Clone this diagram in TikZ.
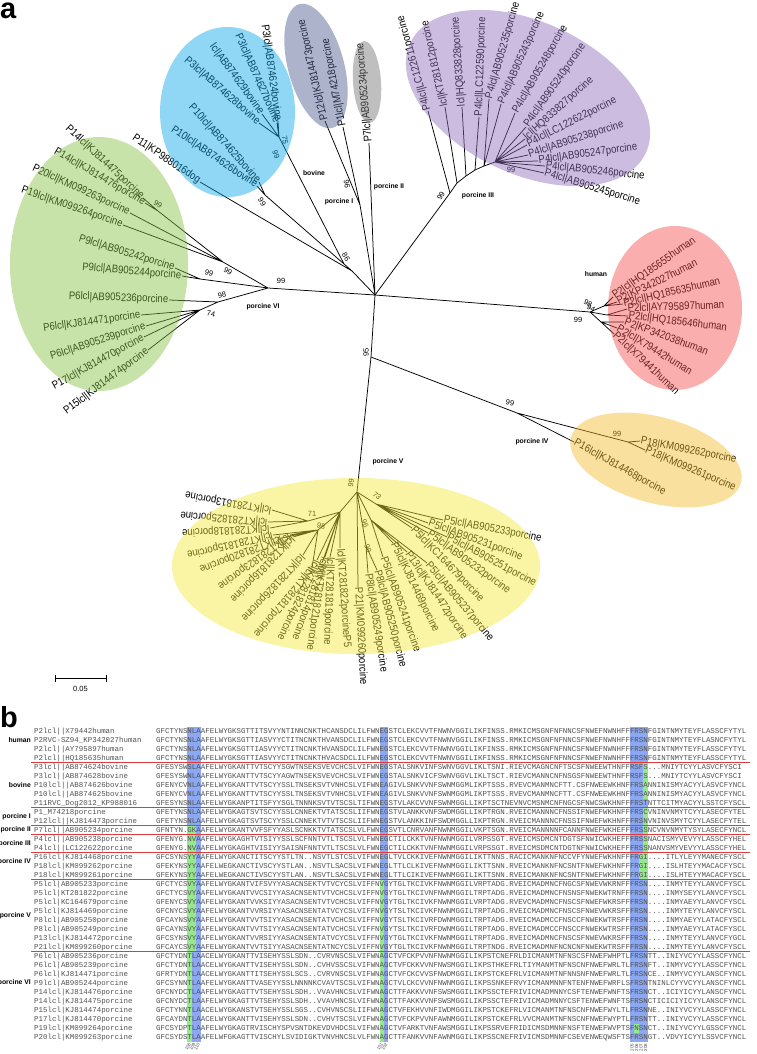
\documentclass[tikz,border=0pt]{standalone}
\usepackage{fontspec}
\setmainfont{Liberation Sans}
\newfontfamily\leaffont[FakeStretch=0.87]{Liberation Sans}
\newfontfamily\monofont{Liberation Mono}
\definecolor{ellG}{RGB}{133,195,66}
\definecolor{ellB}{RGB}{10,166,233}
\definecolor{ellR}{RGB}{244,77,77}
\definecolor{ellP}{RGB}{144,110,188}
\definecolor{ellGB}{RGB}{77,88,144}
\definecolor{ellGr}{RGB}{115,115,115}
\definecolor{ellO}{RGB}{244,188,44}
\definecolor{ellY}{RGB}{244,233,55}
\definecolor{hlB}{RGB}{140,168,242}
\definecolor{hlG}{RGB}{150,232,140}
\definecolor{sepred}{RGB}{222,60,60}
\tikzset{
 br/.style={draw=black, line width=0.75pt},
 leaf/.style={inner sep=0.6pt, font=\leaffont\fontsize{11}{11}\selectfont},
 bs/.style={inner sep=0pt, font=\fontsize{7.5}{7.5}\selectfont},
 grp/.style={inner sep=0pt, font=\bfseries\fontsize{6.8}{6.8}\selectfont},
 ell/.style={fill opacity=0.45},
 seqtxt/.style={anchor=base west, inner sep=0pt, text=black!68, font=\monofont\fontsize{7.45}{7.45}\selectfont},
 posn/.style={inner sep=0pt, text=black!70, font=\fontsize{4.5}{4.5}\selectfont},
 sep/.style={draw=sepred, line width=0.9pt},
 panel/.style={inner sep=0pt, anchor=base west, font=\bfseries\fontsize{29}{29}\selectfont}
}
\newcommand\lf[5]{\coordinate (#1) at (#2); \node[leaf, anchor=#3, rotate=#4] (#1t) at (#1) {#5};}
\newcommand\arow[4]{%
 \node[seqtxt] (an#1) at (34,{733.5+9*#1}) {#2};
 \node[seqtxt] (aa#1) at (156,{733.5+9*#1}) {#3};
 \node[seqtxt] (ab#1) at (379.5,{733.5+9*#1}) {#4};}
\begin{document}
\begin{tikzpicture}[x=1pt,y=-1pt]
\fill[white] (0,0) rectangle (756,1054);
\useasboundingbox (0,0) rectangle (756,1054);

\node[panel, text height=15pt] (pa) at (0,18.5) {a};
\node[panel, text height=22pt] (pb) at (0,727) {b};

% ---------------- tree ----------------
\coordinate (R) at (375,295);
% porcine VI
\coordinate (v2) at (268,288);
\coordinate (vU) at (223,262);
\coordinate (vP14) at (158,211);
\coordinate (v9) at (200,279);
\coordinate (v6) at (218,302);
\coordinate (v6b) at (200,310);
\lf{l14a}{143,198}{east}{-43}{P14lcl|KJ814475porcine}
\lf{l14b}{145,203}{east}{-30}{P14lcl|KJ814476porcine}
\lf{l20}{130,213}{east}{-25}{P20lcl|KM099263porcine}
\lf{l19}{123,225}{east}{-19}{P19lcl|KM099264porcine}
\lf{l9a}{175,268}{east}{-17}{P9lcl|AB905242porcine}
\lf{l9b}{182,276}{east}{-5}{P9lcl|AB905244porcine}
\lf{l6a}{169,300}{east}{-2}{P6lcl|AB905236porcine}
\lf{l6b}{141,315}{east}{8}{P6lcl|KJ814471porcine}
\lf{l6c}{146,326}{east}{18}{P6lcl|AB905239porcine}
\lf{l17}{144,337}{east}{29}{P17lcl|KJ814470porcine}
\lf{l15}{148,350}{east}{37}{P15lcl|KJ814474porcine}
\draw[br] (R) -- (v2) (v2) -- (vU) (vU) -- (vP14) (vP14) -- (l14a) (vP14) -- (l14b)
 (vU) -- (l20) (vU) -- (l19) (v2) -- (v9) (v9) -- (l9a) (v9) -- (l9b)
 (v2) -- (v6) (v6) -- (l6a) (v6) -- (v6b) (v6b) -- (l6b) (v6b) -- (l6c) (v6b) -- (l17) (v6b) -- (l15);
% bovine + dog
\coordinate (vBD) at (352,271);
\coordinate (vBov) at (344,264);
\coordinate (vP3) at (279,137);
\coordinate (vP10) at (265,195);
\lf{b24}{278,121}{east}{-82}{P3lcl|AB874624bovine}
\lf{b27}{277,123}{east}{-66}{P3lcl|AB874627bovine}
\lf{b29}{262,114}{east}{-54}{lcl|AB874629bovine}
\lf{b28}{259,123}{east}{-41}{P3lcl|AB874628bovine}
\lf{b25}{259,182}{east}{-48}{P10lcl|AB874625bovine}
\lf{b26}{257,186}{east}{-34}{P10lcl|AB874626bovine}
\lf{dog}{200,182}{east}{-34}{P11|KP988016dog}
\draw[br] (R) -- (vBD) (vBD) -- (vBov) (vBD) -- (dog) (vBov) -- (vP3) (vBov) -- (vP10)
 (vP3) -- (b24) (vP3) -- (b27) (vP3) -- (b29) (vP3) -- (b28) (vP10) -- (b25) (vP10) -- (b26);
% porcine I, II
\coordinate (vI) at (360,205);
\lf{p12}{325,121}{west}{103}{P12lcl|KJ814473porcine}
\lf{p1}{343,127}{west}{101}{P1lcl|M74218porcine}
\lf{p7}{369,143}{west}{95}{P7lcl|AB905234porcine}
\draw[br] (R) -- (vI) (vI) -- (p12) (vI) -- (p1) (R) -- (p7);
% porcine III
\coordinate (vIII) at (450,193);
\coordinate (b1) at (457,183);
\coordinate (b2) at (466,176);
\coordinate (b3) at (475,170);
\coordinate (b4) at (484,166);
\coordinate (b5) at (495,162);
\lf{t1}{428,111}{west}{106}{P4lcl|LC122611porcine}
\lf{t2}{445,107}{west}{103}{lcl|KT281812porcine}
\lf{t3}{462,107}{west}{94}{lcl|HQ833828porcine}
\lf{t4}{479,117}{west}{88}{P4lcl|LC122590porcine}
\lf{t5}{489,99}{west}{74}{P4lcl|AB905235porcine}
\lf{t6}{501,104}{west}{66}{P4lcl|AB905243porcine}
\lf{t7}{515,113}{west}{60}{P4lcl|AB905248porcine}
\lf{t8}{526,127}{west}{55}{P4lcl|AB905240porcine}
\lf{t9}{525,139}{west}{42}{lcl|HQ833827porcine}
\lf{t10}{527,145}{west}{27}{P4lcl|LC122622porcine}
\lf{t11}{528,155}{west}{18}{P4lcl|AB905238porcine}
\lf{t12}{538,161}{west}{8}{P4lcl|AB905247porcine}
\lf{t13}{545,166}{west}{-6}{P4lcl|AB905246porcine}
\lf{t14}{544,173}{west}{-17}{P4lcl|AB905245porcine}
\draw[br] (R) -- (vIII) -- (b1) -- (b2) -- (b3) -- (b4) -- (b5);
\draw[br] (vIII) -- (t1) (b1) -- (t2) (b2) -- (t3) (b3) -- (t4) (b4) -- (t5) (b4) -- (t6)
 (b5) -- (t7) (b5) -- (t8) (b5) -- (t9) (b5) -- (t10) (b5) -- (t11) (b5) -- (t12) (b5) -- (t13) (b5) -- (t14);
% human
\coordinate (vH) at (590,312);
\coordinate (hA) at (604,306);
\coordinate (hB) at (607,315);
\coordinate (hC) at (601,322);
\lf{h1}{613,297}{west}{35}{P2lcl|HQ185655human}
\lf{h2}{617,302}{west}{26}{P2|KP342027human}
\lf{h3}{623,304}{west}{13}{P2lcl|HQ185635human}
\lf{h4}{627,309}{west}{2}{P2lcl|AY795897human}
\lf{h5}{628,316}{west}{-7}{P2lcl|HQ185646human}
\lf{h6}{624,322}{west}{-20}{P2|KP342038human}
\lf{h7}{617,328}{west}{-31}{P2lcl|X79442human}
\lf{h8}{614,334}{west}{-43}{P2lcl|X79441human}
\draw[br] (R) -- (vH) (vH) -- (hA) (vH) -- (hB) (vH) -- (hC)
 (hA) -- (h1) (hA) -- (h2) (hA) -- (h3) (hB) -- (h4) (hB) -- (h5) (hC) -- (h6) (hC) -- (h7) (hC) -- (h8);
% porcine IV
\coordinate (vIVV) at (371,357);
\coordinate (vIV) at (517,413);
\coordinate (vP18) at (628,442);
\lf{q16}{574,442}{west}{-29}{P16lcl|KJ814468porcine}
\lf{q18a}{640,441}{west}{-11}{P18|KM099262porcine}
\lf{q18b}{645,450}{west}{-23}{P18|KM099261porcine}
\draw[br] (R) -- (vIVV) (vIVV) -- (vIV) (vIV) -- (q16) (vIV) -- (vP18) (vP18) -- (q18a) (vP18) -- (q18b);
% porcine V
\coordinate (vV) at (357,492);
\coordinate (vVr) at (376,504);
\coordinate (vVm) at (371,520);
\coordinate (vP8) at (366,546);
\coordinate (vVl) at (340,512);
\coordinate (v71) at (308,521);
\coordinate (v98) at (318,530);
\lf{r1}{443,520}{west}{-11}{P5lcl|AB905233porcine}
\lf{r2}{428,523}{west}{-20}{P5lcl|AB905231porcine}
\lf{r3}{447,537}{west}{-28}{P5lcl|AB905251porcine}
\lf{r4}{428,533}{west}{-36}{P5lcl|AB905232porcine}
\lf{r5}{412,528}{west}{-46}{P5lcl|KC164679porcine}
\lf{r6}{427,563}{west}{-50}{P5lcl|AB905237porcine}
\lf{r7}{407,552}{west}{-56}{P13lcl|KJ814472porcine}
\lf{r8}{393,543}{west}{-64}{P5lcl|KJ814469porcine}
\lf{r9}{383,557}{west}{-70}{P5lcl|AB905241porcine}
\lf{r10}{377,570}{west}{-75}{P8lcl|AB905250porcine}
\lf{r11}{368,573}{west}{-81}{P8lcl|AB905249porcine}
\lf{k13}{272,510}{west}{170}{lcl|KT281813porcine}
\lf{k25}{268,522}{west}{175}{lcl|KT281825porcine}
\lf{k18}{270,528}{west}{183}{lcl|KT281818porcine}
\lf{k15}{273,535}{west}{193}{lcl|KT281815porcine}
\lf{k20}{282,538}{west}{201}{lcl|KT281820porcine}
\lf{k23}{290,535}{west}{216}{lcl|KT281823porcine}
\lf{k16}{293,537}{west}{226}{lcl|KT281816porcine}
\lf{k26}{303,555}{west}{227}{lcl|KT281826porcine}
\lf{k17}{312,568}{west}{230}{lcl|KT281817porcine}
\lf{k24}{317,560}{west}{245}{lcl|KT281824porcine}
\lf{k14}{325,557}{west}{250}{lcl|KT281814porcine}
\lf{k21}{322,563}{west}{262}{lcl|KT281821porcine}
\lf{k19}{330,557}{west}{268}{lcl|KT281819porcine}
\lf{k22}{340,548}{west}{274}{lcl|KT281822porcineP5}
\lf{k60}{358,587}{west}{273}{P21|KM099260porcine}
\draw[br] (vIVV) -- (vV) (vV) -- (vVr) (vV) -- (vVm) (vV) -- (vP8) (vV) -- (vVl) (vV) -- (k60)
 (vVr) -- (r1) (vVr) -- (r2) (vVr) -- (r3) (vVr) -- (r4) (vVr) -- (r5)
 (vVm) -- (r6) (vVm) -- (r7) (vVm) -- (r8) (vVm) -- (r9) (vP8) -- (r10) (vP8) -- (r11)
 (vVl) -- (v71) (vVl) -- (v98) (vVl) -- (k24) (vVl) -- (k14) (vVl) -- (k21) (vVl) -- (k19) (vVl) -- (k22)
 (v71) -- (k13) (v71) -- (k25) (v71) -- (k18)
 (v98) -- (k15) (v98) -- (k20) (v98) -- (k23) (v98) -- (k16) (v98) -- (k26) (v98) -- (k17);

% bootstrap values
\node[bs, rotate=-80] (bs1) at (285,140) {75};
\node[bs, rotate=-70] (bs2) at (276,155) {99};
\node[bs, rotate=-60] (bs3) at (262,202) {99};
\node[bs, rotate=-60] (bs4) at (346,257) {86};
\node[bs, rotate=-80] (bs5) at (347,184) {96};
\node[bs, rotate=60] (bs6) at (441,196) {99};
\node[bs] (bs7) at (511,170) {99};
\node[bs, rotate=-30] (bs8) at (158,204) {99};
\node[bs, rotate=-30] (bs9) at (228,271) {99};
\node[bs, rotate=-15] (bs10) at (209,273) {99};
\node[bs] (bs11) at (281,281) {99};
\node[bs, rotate=10] (bs12) at (222,295) {98};
\node[bs, rotate=-10] (bs13) at (211,314) {74};
\node[bs] (bs14) at (578,320) {99};
\node[bs, rotate=-30] (bs15) at (588,303) {98};
\node[bs, rotate=-30] (bs16) at (591,308) {94};
\node[bs, rotate=90] (bs17) at (366,352) {95};
\node[bs, rotate=-10] (bs18) at (510,403) {99};
\node[bs] (bs19) at (617,434) {99};
\node[bs, rotate=80] (bs20) at (351,483) {99};
\node[bs, rotate=-40] (bs21) at (377,496) {73};
\node[bs] (bs22) at (312,514) {71};
\node[bs, rotate=-15] (bs23) at (321,526) {98};
\node[bs, rotate=-70] (bs24) at (365,524) {96};
\node[bs, rotate=-70] (bs25) at (368,549) {99};

% group labels
\node[grp] (gbov) at (314,173) {bovine};
\node[grp] (gp1) at (339,202) {porcine I};
\node[grp] (gp2) at (389,187) {porcine II};
\node[grp] (gp3) at (478,196) {porcine III};
\node[grp] (ghum) at (596,274) {human};
\node[grp] (gp4) at (532,442) {porcine IV};
\node[grp] (gp5) at (388,462) {porcine V};
\node[grp] (gp6) at (263,307) {porcine VI};

% scale bar
\coordinate (sbL) at (55,678);
\coordinate (sbR) at (106,678);
\draw[line width=0.8pt] (sbL) -- (sbR);
\draw[line width=0.8pt] (55,674.5) -- (55,681.5) (106,674.5) -- (106,681.5);
\node[bs] (sbt) at (80.5,689) {0.05};

% clade ellipses (translucent overlay)
\fill[ellB, ell] (227.5,112) ellipse [x radius=67.5pt, y radius=85pt];
\fill[ellGB, ell, rotate around={15:(316,66)}] (316,66) ellipse [x radius=28pt, y radius=64pt];
\fill[ellGr, ell, rotate around={4:(367,82)}] (367,82) ellipse [x radius=14pt, y radius=41pt];
\fill[ellP, ell, rotate around={-25:(528,98)}] (528,98) ellipse [x radius=130pt, y radius=76pt];
\fill[ellR, ell] (675,308) ellipse [x radius=67pt, y radius=82pt];
\fill[ellG, ell] (99,264) ellipse [x radius=89pt, y radius=127pt];
\fill[ellO, ell, rotate around={-15:(656,460)}] (656,460) ellipse [x radius=88pt, y radius=43pt];
\fill[ellY, ell] (356,566) ellipse [x radius=184pt, y radius=88pt];

% ---------------- alignment ----------------
\fill[hlB] (187.3,726.5) rectangle (200.7,825.5);
\fill[hlG] (187.3,825.5) rectangle (196.2,951.5);
\fill[hlB] (196.2,825.5) rectangle (200.7,951.5);
\fill[hlG] (187.3,951.5) rectangle (191.8,1041.5);
\fill[hlB] (191.8,951.5) rectangle (200.7,1041.5);
\fill[hlB] (379.5,726.5) rectangle (388.4,879.5);
\fill[hlG] (379.5,879.5) rectangle (384,1041.5);
\fill[hlB] (384,879.5) rectangle (388.4,1041.5);
\fill[hlB] (629.8,726.5) rectangle (647.7,762.5);
\fill[hlB] (629.8,762.5) rectangle (643.2,798.5);
\fill[hlG] (643.2,762.5) rectangle (647.7,798.5);
\fill[hlB] (629.8,798.5) rectangle (647.7,807.5);
\fill[hlB] (629.8,807.5) rectangle (643.2,852.5);
\fill[hlG] (643.2,807.5) rectangle (647.7,852.5);
\fill[hlB] (629.8,852.5) rectangle (638.8,879.5);
\fill[hlG] (638.8,852.5) rectangle (647.7,879.5);
\fill[hlB] (629.8,879.5) rectangle (647.7,1041.5);
\fill[hlG] (634.3,1023.5) rectangle (638.8,1032.5);

\arow{0}{P2lcl||X79442human}{GFCTYNSNLAAFELWYGKSGTTITSVYYNTINNCNKTHCANSDCLILFWN}{EGSTCLEKCVVTFNWNVGGILIKFINSS.RMKICMSGNFNFNNCSFNWEFNWNHFFFRSNFGINTNMYTEYFLASSCFYTYL}
\arow{1}{P2RVC-SZ94\_KP342027human}{GFCTYNSNLAAFELWYGKSGTTIASVYYCTITNCNKTHVANSDCLILFWN}{EGSTCLEKCVVTFNWNVGGILIKFINSS.RMKICMSGNFNFNNCSFNWEFNWNHFFFRSNFGINTNMYTEYFLASNCFYTYL}
\arow{2}{P2lcl||AY795897human}{GFCTYNSNLAAFELWYGKSGTTIASVYYCTITNCNKTHVANSDCLILFWN}{EGSTCLEKCVVTFNWNVGGILIKFINSS.RMKICMSGNFNFNNCSFNWEFNWNHFFFRSNFGINTNMYTEYFLASSCFYTYL}
\arow{3}{P2lcl||HQ185635human}{GFCTYNSNLAAFELWYGKSGTTIASVYYCTITNCNKTHVACSDCLILFWN}{EGSTCLEKCVVTFNWNVGGILIKFINSS.RMKICMSGNFNFNNCSFNWEFNWNHFFFRSNFGINTNMYTEYFLASSCFYTYL}
\arow{4}{P3lcl||AB874624bovine}{GFESYSWSLAAFELWYGKANTTVTSCYYSGWTNSEKSVEVCHCSLVIFWN}{EGSTALSNKVINFSWNVGGVLIKLTSNI.RIEVCMAGNCNFTSCSFNWEEWTHNFFRSFS...MNIYTCYYLASVCFYSCI}
\arow{5}{P3lcl||AB874628bovine}{GFESYSWNLAAFELWYGKANTTVTSCYYAGWTNSEKSVEVCHCSLVIFWN}{EGSTALSNKVICFSWNVGGVLIKLTSCT.RIEVCMANNCNFNSGSFNWEEWTHNFFRSFS...MNIYTCYYLASVCFYSCI}
\arow{6}{P10lcl||AB874626bovine}{GFENYCVNLAAFELWYGKANTTVTSCYYSSLTNSEKSVTVNHCSLVIFWN}{EAGIVLSNKVVNFSWNMGGMLIKPTSSS.RVEVCMANMNCFTT.CSFNWEEWKHNFFRSANNINISMYACYYLASVCFYNCL}
\arow{7}{P10lcl||AB874625bovine}{GFENYCVNLAAFELWYGKANTTVTSCYYSSLTNSEKSVTVNHCSLVIFWN}{EAGIVLSNKVVNFSWNMGGMLIKPTSSS.RVEVCMANMNCFTT.CSFNWEEWKHNFFRSANNINISMYACYYLASVCFYNCL}
\arow{8}{P11RVC\_Dog2012\_KP988016}{GFESYNSNLAAFELWYGKANPTITSFYYSGLTNNNKSVTVTSCSLTIFWN}{EGSTVLAKCVVNFSWNMGGLLIKPTSCTNEVNVCMSNMCNFNGCSFNWCSWKHNFFFRSTNTTCITMYACYYLSSTCFYSCL}
\arow{9}{P1\_M74218porcine}{GFETYNSNLAAFELWYGKAGTSVTSCYYSSLCNNEKTVTATSCSLIIFWN}{EGSTVLANKKVNFSWDMGGLLIKPTRGN.RVEICMANNNCFNSSIFNWEFWKHNFFFRSCVNINVNMYTCYYLASECFYTEL}
\arow{10}{P12lcl||KJ814473porcine}{GFETYNSNLAAFELWYGKAGTSVTSCYYSSLCNNEKTVTVTSCSLIIFWN}{EGSTVLANKKINFSWDMGGLLIKPTRGN.RVEICMANNNCFNSSIFNWEFWKHNFFFRSNVNINVSMYTCYYLASECFYTEL}
\arow{11}{P7lcl||AB905234porcine}{GFNTYN.GKAAFELWYGKANTVVFSFYYASLSCNKKTVTATSCSLVLFWN}{EGSVTLCNRVANFNWNMGGILVKPTSGN.RVEICMANNNNFCANNFNWEFWKHEFFFRSSNCVNVNMYTYSYLASECFYNCL}
\arow{12}{P4lcl||AB905238porcine}{GFENYG.NVAAFELWYGKAGHTVTSIYYSSLSCFNNTVTLTSCSLVLFWN}{EGCTILCKKTVNFNWNMGGILVRPSSGT.RVEICMSDMCNTDGTSFNWICWKHEFFFRSSNACISMYVEVYYLASSCFYHEL}
\arow{13}{P4lcl||LC122622porcine}{GFENYG.NVAAFELWYGKAGHTVISIYYSAISNFNNTVTLTSCSLVLFWN}{EGCTILCKKTVNFNWNMGGILVRPSSGT.RVEICMSDMCNTDGTNFNWICWKHEFFFRSSNANVSMYVEVYYLASSCFYHEL}
\arow{14}{P16lcl|KJ814468porcine}{GFCSYNSYYAAFELWYGKANCTITSCYYSTLTN..NSVTLSTCSLVIFWN}{EGLTVLCKKIVEFNWNMGGILIKTTNNS.RACICMANKNFNCCVFYNWEFWKHNFFFRGI....ITLYLEYYMANECFYSCL}
\arow{15}{P18lcl|KM099262porcine}{GFEKYNSYYAAFELWEGKANCTIVSCYYSTLAN..NSVTLSACSLVIFWN}{EGLTTLCLKIVEFNWNMGGILIKTTSNN.RVEICMANKNFNCSNTFNWEFWKHNFFFRGI....ISLHTEYYMACACFYSCL}
\arow{16}{P18lcl|KM099261porcine}{GFEKYNSYYAAFELWEGKANCTIVSCYYSTLAN..NSVTLSACSLVIFWN}{EGLTTLCIKIVEFNWNMGGILIKTTSNN.RVEICMANKNFNCSNTFNWEFWKHNFFFRGI....ISLHTEYYMACACFYSCL}
\arow{17}{P5lcl|AB905233porcine}{GFCTYCSVYAAFELWYGKANTVIFSVYYASACNSEKTVTVCYCSLVIFFN}{VGYTGLTKCIVKFNWNMGGILVRPTADG.RVEICMADMNCFNGCSFNWEVWKRNFFFRSN....INMYTEYYLANVCFYSCL}
\arow{18}{P5lcl|KT281822porcine}{GFCTYCSVYAAFELWYGKANTVVCSIYYASACNSENTVTVCHCSLVIFFN}{VGYTGLTKCIVNFNWNMGGILTRPTADG.RVEICMADMNCFNSNSFNWEKWTRNFFFRSN....INMYSEYYLANVCFYSCL}
\arow{19}{P5lcl|KC164679porcine}{GFENYCSVYAAFELWYGKANTVVKSIYYASACNSENTVTVCHCSLVIFFN}{VGYTGLTKCIVKFNWNMGGILVRPTADG.RVEVCMADMNCFNSCSFNWEFWKRSFFFRSN....INMYAEYYLANVCFYSCL}
\arow{20}{P5lcl|KJ814469porcine}{GFCNYCSVYAAFELWYGKANTVVRSIYYASACNSENTATVCYCSLVIFFN}{VGYTSLTKCIVKFNWNMGGILTRPTADG.RVEICMADMNCFNSCSFNWEVWKRSFFFRSN....INMYTEYYLANVCFYSCL}
\arow{21}{P8lcl|AB905250porcine}{GFCAYNSVYAAFELWYGKANTVVTSIYYASACNSENTATVCHCSLVIFFN}{VGYTSLTKCIVRFDWNMGGILTRPTADG.RVEICMADMCCFNSCCFNWEKWTRSFFFRSN....INMYAEYYLATACFYSCL}
\arow{22}{P8lcl|AB905249porcine}{GFCAYNSVYAAFELWYGKANTVVTSIYYASACNSENTATVCHCSLVIFFN}{VGYTSLTKCIVRFDWNMGGILTRPTADG.RVEICMADMCCFNSCCFNWEKWTRSFFFRSN....INMYAEYYLATACFYSCL}
\arow{23}{P13lcl|KJ814472porcine}{GFCSYNSVYAAFELWYGKANTVVRSIYYASACNSENTATVCYCSLVIFFN}{VGYTGLTKCIVKFNWNMGGILTRPTADG.RVEICMADMNCFNSCSFNWEVWKRSFFFRSN....INMYTEYYLANVCFYGCL}
\arow{24}{P21lcl|KM099260porcine}{GFCAYCSVYAAFELWYGKANTVVTSIYYASACNSENTATNCYCSLVIFFN}{VGYTGLTKCIVKFNWNMGGILTRPTNDG.RVEICMADMNFNCNCNFNWEKWTRSFFFRSN....INMYTEYYLANVCFYSCL}
\arow{25}{P6lcl|AB905236porcine}{GFCTYDNTLAACELWYGKANTTVISEHYSSLSDN..CVRVNSCSLVIFWN}{AGCTVFCKPVVNFNWNMGGILIKPSTCNEFRLDICMANMTNFNSCSFNWEFWHPTLFRSNTT..INIYVCYYLASSCFYNCL}
\arow{26}{P6lcl|AB905239porcine}{GFCTYDNTLAACELWYGKANTTVISEHYSSLSDN..CVHVSSCSLVIFWN}{AGCTVFCKKVVNFNWSMGGILIKPSTHKEFRLTIYMANMTNFNSCNFNWEFWRLTLFRSNFT..INMYVCYYLASSCFYNCL}
\arow{27}{P6lcl|KJ814471porcine}{GFRTYDNTLAACELWYGKANTTITSEHYSSLSCS..CVRVNSCSLVIFWN}{AGCTVFCKCVVSFNWDMGGILIKPSTCKEFRLVICMANMTNFNNSNFNWEFWRLTLFRSNCE..INMYVCYYLANSCFYNCL}
\arow{28}{P9lcl|AB905244porcine}{GFCSYNNTLAAFELWYGKANTTVASEYYSSLNNNNKCVAVTSCSLVIFWN}{AGCTVLCKCVVNFNWNMGGILIKPSSNKEFRVYICMANMNNFNTENFNWEFWRFLSFRSNTNINLCYYVCYYLANSCFYNCL}
\arow{29}{P14lcl|KJ814476porcine}{GFCNYDCTLAAFELWYGKAGTTVTSEHYSSLSDH..VVAVHNCSLVIFWN}{AGCTTFAKKVVNFSWSMGGILIKPSSCTEFRIVICMADMNNYCSFTENWEFWNFTSFRSNCT..ICIYICYYLANSCFYNCL}
\arow{30}{P14lcl|KJ814475porcine}{GFCNYDCTLAAFELWYGKAGTTVTSEHYSSLSDH..VVAVHNCSLVIFWN}{AGCTTFAKKVVNFSWSMGGILIKPSSCTEFRIVICMADMNNYCSFTENWEFWNFTSFRSNCTICICIYICYYLANSCFYNCL}
\arow{31}{P15lcl|KJ814474porcine}{GFCTYNNTLAACELWYGKANSTVTSEHYSSLSGS..CVHVNSCSLIIFWN}{AGCTVFEKHVVNFIWDMGGILIKPSTCKEFRLVICMANMTNFNSCNFNWEFWYLTLFRSNNE..INIYVCYYLASSCFYNCL}
\arow{32}{P17lcl|KJ814470porcine}{GFCAYDNTLAACELWYGKANTTVISEHYSSLSDN..CVHVTSCSLVIFWN}{AGCTVFCKPVVNFAWNMGGILIKPSTCKEFRLVVCMANMTNFNSCNFNWEFWYPTLFRSNTT..INIYVCYYLASSCFYNCL}
\arow{33}{P19lcl|KM099264porcine}{GFCSYDPTLAAFELWYGKAGTRVISCHYSPVSNTDKEVDVHDCSLVIFWN}{AGCTVFARKTVNFAWSMGGILIKPSSRVEFRIDICMSDMNNFNSFTENWEFWVPTSFNSNCT..INIYVCYYLGSSCFYNCL}
\arow{34}{P20lcl|KM099263porcine}{GFCSYDSTLAAFELWFGKAGTTVISCHYLSVIDIGKTVNVHNCSLVLFWN}{AGCTTFANKVVNFAWNMGGILIKPSSCNEFRIVICMSDMNNFCSEVENWEQWSFTSFRSNGT..VDVYICYYLSSVCFYNCL}

% separators
\draw[sep] (31,762.5) -- (750,762.5);
\draw[sep] (31,807.5) -- (750,807.5);
\draw[sep] (31,825.5) -- (750,825.5);
\draw[sep] (31,834.5) -- (750,834.5);
\draw[sep] (31,852.5) -- (750,852.5);
\draw[sep] (31,879.5) -- (750,879.5);
\draw[sep] (31,951.5) -- (750,951.5);

% group labels of alignment
\node[grp, anchor=east] (ah) at (31,740) {human};
\node[grp, anchor=east] (ab) at (31,785) {bovine};
\node[grp, anchor=east] (ap1) at (31,816.5) {porcine I};
\node[grp, anchor=east] (ap2) at (31,830) {porcine II};
\node[grp, anchor=east] (ap3) at (31,843.5) {porcine III};
\node[grp, anchor=east] (ap4) at (31,861.5) {porcine IV};
\node[grp, anchor=east] (ap5) at (31,915.5) {porcine V};
\node[grp, anchor=east] (ap6) at (31,983) {porcine VI};

% position numbers
\node[posn, anchor=east, rotate=60] (n108) at (190,1043.5) {108};
\node[posn, anchor=east, rotate=60] (n109) at (194.5,1043.5) {109};
\node[posn, anchor=east, rotate=60] (n110) at (199,1043.5) {110};
\node[posn, anchor=east, rotate=60] (n151) at (382,1043.5) {151};
\node[posn, anchor=east, rotate=60] (n152) at (386.5,1043.5) {152};
\node[posn, anchor=east, rotate=90] (n205) at (632,1043.5) {205};
\node[posn, anchor=east, rotate=90] (n206) at (636.5,1043.5) {206};
\node[posn, anchor=east, rotate=90] (n207) at (641,1043.5) {207};
\node[posn, anchor=east, rotate=90] (n208) at (645.5,1043.5) {208};
\end{tikzpicture}
\end{document}
